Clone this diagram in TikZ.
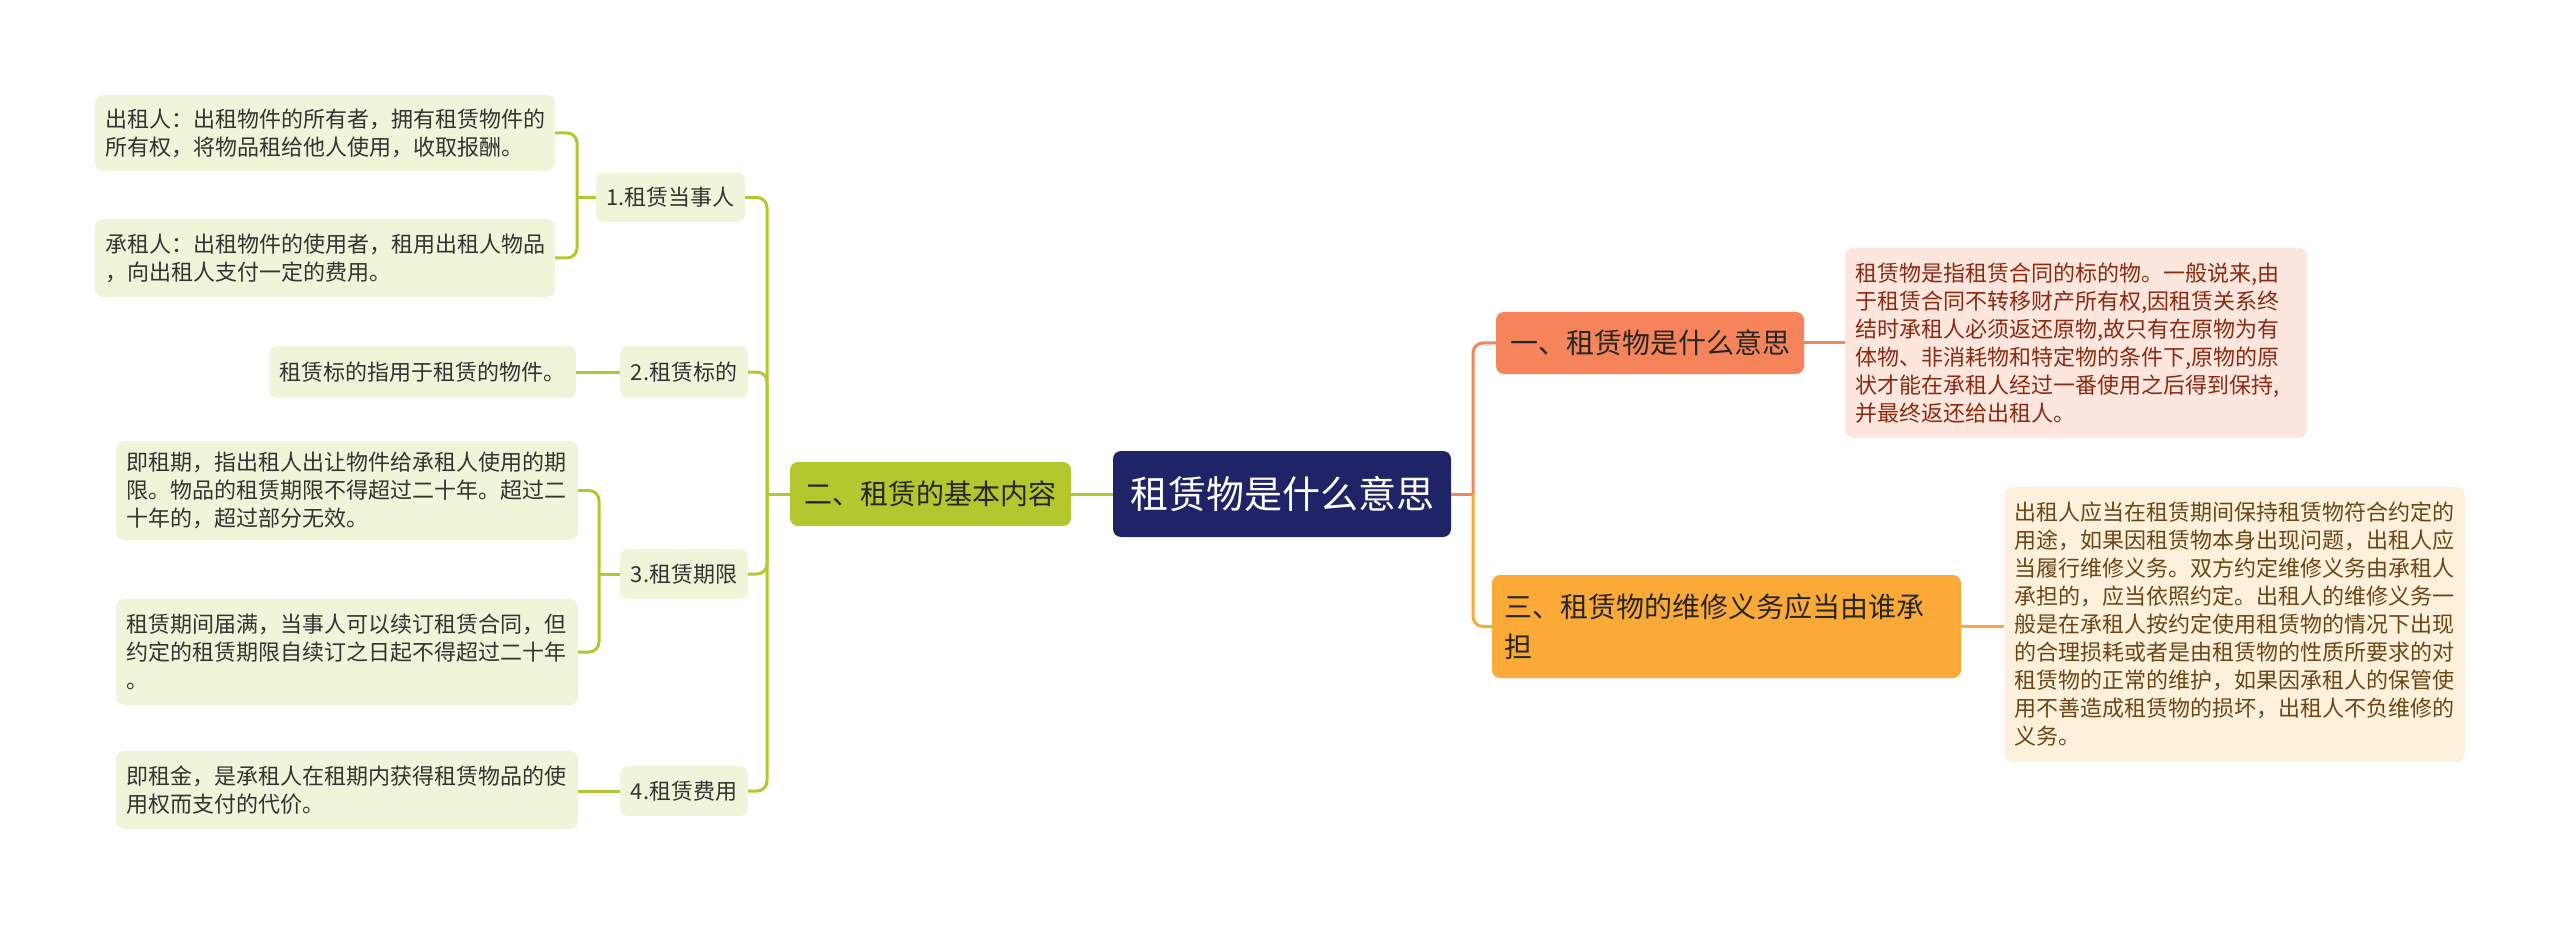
\documentclass[tikz,border=0pt]{standalone}
\usepackage{fontspec}
\newfontfamily\cjk{Noto Sans CJK SC}
\definecolor{gline}{HTML}{B4C72F}
\definecolor{leaffill}{HTML}{F0F4D8}
\definecolor{navy}{HTML}{1F2466}
\definecolor{salmon}{HTML}{F5845A}
\definecolor{orng}{HTML}{FBAA38}
\definecolor{pinkfill}{HTML}{FDE6DE}
\definecolor{redtext}{HTML}{8A2B10}
\definecolor{creamfill}{HTML}{FEF1DC}
\definecolor{browntext}{HTML}{6B4615}
\definecolor{darktext}{HTML}{333333}
\tikzset{
  box/.style={rectangle, rounded corners=8pt, inner xsep=10pt, inner ysep=0pt, align=left, anchor=center},
  leaf/.style={box, fill=leaffill, text=darktext, font=\cjk\fontsize{22}{28}\selectfont},
  sub/.style={box, fill=leaffill, text=darktext, align=center, inner xsep=0pt, font=\cjk\fontsize{22}{28}\selectfont},
  topic/.style={box, text=black!85, font=\cjk\fontsize{28}{40}\selectfont},
  gconn/.style={draw=gline, line width=3pt},
  sconn/.style={draw=salmon, line width=3pt},
  oconn/.style={draw=orng, line width=3pt},
}
\begin{document}
\begin{tikzpicture}[x=1pt,y=-1pt]
\useasboundingbox[fill=white] (0,0) rectangle (2560,925);
% central
\node[box, fill=navy, text=white, align=center, minimum width=338pt, minimum height=86pt, font=\cjk\fontsize{38}{44}\selectfont] (c) at (1282,494) {租赁物是什么意思};
% main topics
\node[topic, fill=gline, align=center, minimum width=281pt, minimum height=64pt] (t2) at (930.5,494) {二、租赁的基本内容};
\node[topic, fill=salmon, align=center, minimum width=308pt, minimum height=62pt] (t1) at (1650,343) {一、租赁物是什么意思};
\node[topic, fill=orng, minimum width=469pt, minimum height=103pt, inner xsep=12pt, text width=445pt] (t3) at (1726.5,626.5) {三、租赁物的维修义务应当由谁承\\担};
% right details
\node[box, fill=pinkfill, text=redtext, font=\cjk\fontsize{22}{28}\selectfont, minimum width=462pt, minimum height=190pt, text width=442pt] (r1) at (2076,343) {租赁物是指租赁合同的标的物。一般说来,由\\于租赁合同不转移财产所有权,因租赁关系终\\结时承租人必须返还原物,故只有在原物为有\\体物、非消耗物和特定物的条件下,原物的原\\状才能在承租人经过一番使用之后得到保持,\\并最终返还给出租人。};
\node[box, fill=creamfill, text=browntext, font=\cjk\fontsize{22}{28}\selectfont, minimum width=459pt, minimum height=275pt, text width=440pt] (r2) at (2234.5,624.5) {出租人应当在租赁期间保持租赁物符合约定的\\用途，如果因租赁物本身出现问题，出租人应\\当履行维修义务。双方约定维修义务由承租人\\承担的，应当依照约定。出租人的维修义务一\\般是在承租人按约定使用租赁物的情况下出现\\的合理损耗或者是由租赁物的性质所要求的对\\租赁物的正常的维护，如果因承租人的保管使\\用不善造成租赁物的损坏，出租人不负维修的\\义务。};
% subtopics
\node[sub, minimum width=149pt, minimum height=49pt] (s1) at (670.5,197.5) {1.租赁当事人};
\node[sub, minimum width=128pt, minimum height=52pt] (s2) at (684,372) {2.租赁标的};
\node[sub, minimum width=128pt, minimum height=50pt] (s3) at (684,574) {3.租赁期限};
\node[sub, minimum width=128pt, minimum height=50pt] (s4) at (684,791) {4.租赁费用};
% leaves
\node[leaf, minimum width=460pt, minimum height=76pt, text width=440pt] (l1) at (325,133) {出租人：出租物件的所有者，拥有租赁物件的\\所有权，将物品租给他人使用，收取报酬。};
\node[leaf, minimum width=460pt, minimum height=78pt, text width=440pt] (l2) at (325,258) {承租人：出租物件的使用者，租用出租人物品\\，向出租人支付一定的费用。};
\node[leaf, minimum width=307pt, minimum height=52pt, text width=287pt] (l3) at (422.5,372) {租赁标的指用于租赁的物件。};
\node[leaf, minimum width=462pt, minimum height=99pt, text width=442pt] (l4) at (347,490.5) {即租期，指出租人出让物件给承租人使用的期\\限。物品的租赁期限不得超过二十年。超过二\\十年的，超过部分无效。};
\node[leaf, minimum width=462pt, minimum height=106pt, text width=442pt] (l5) at (347,652) {租赁期间届满，当事人可以续订租赁合同，但\\约定的租赁期限自续订之日起不得超过二十年\\。};
\node[leaf, minimum width=462pt, minimum height=78pt, text width=442pt] (l6) at (347,790) {即租金，是承租人在租期内获得租赁物品的使\\用权而支付的代价。};
% junction coordinates
\coordinate (sp) at (767,494);
\coordinate (b1) at (577,197.5);
\coordinate (b3) at (599,574);
\coordinate (rj) at (1473,494);
% connectors left
\draw[gconn] (c.west) -- (t2.east);
\draw[gconn] (t2.west) -- (sp);
\draw[gconn, rounded corners=10pt] (sp) |- (s1.east);
\draw[gconn, rounded corners=10pt] (sp) |- (s2.east);
\draw[gconn, rounded corners=10pt] (sp) |- (s3.east);
\draw[gconn, rounded corners=10pt] (sp) |- (s4.east);
\draw[gconn] (s1.west) -- (b1);
\draw[gconn, rounded corners=10pt] (b1) |- (l1.east);
\draw[gconn, rounded corners=10pt] (b1) |- (l2.east);
\draw[gconn] (s2.west) -- (l3.east);
\draw[gconn] (s3.west) -- (b3);
\draw[gconn, rounded corners=10pt] (b3) |- (l4.east);
\draw[gconn, rounded corners=10pt] (b3) |- (l5.east);
\draw[gconn] (s4.west) -- (s4.west -| l6.east);
% connectors right
\draw[sconn] (c.east) -- (rj);
\draw[sconn, rounded corners=10pt] (rj) |- (t1.west);
\draw[oconn, rounded corners=10pt] (rj) |- (t3.west);
\draw[sconn] (t1.east) -- (r1.west);
\draw[oconn] (t3.east) -- (t3.east -| r2.west);
\end{tikzpicture}
\end{document}
